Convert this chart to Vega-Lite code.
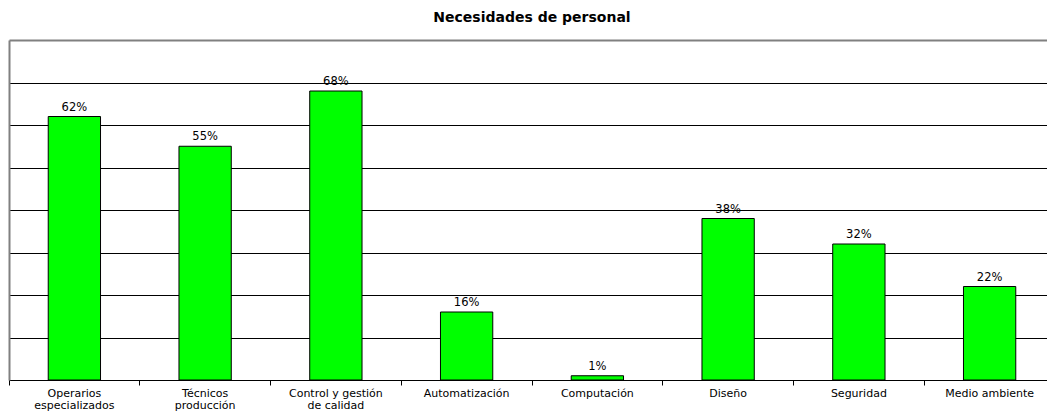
{
  "$schema": "https://vega.github.io/schema/vega-lite/v6.json",
  "width": 1038,
  "height": 340,
  "autosize": "none",
  "padding": {"left": 9, "top": 40, "right": 0, "bottom": 31},
  "background": "white",
  "config": {"view": {"stroke": null}},
  "title": {
    "text": "Necesidades de personal",
    "font": "DejaVu Sans",
    "fontSize": 14,
    "fontWeight": "bold",
    "color": "black",
    "anchor": "middle",
    "frame": "group",
    "offset": 15,
    "dx": 4
  },
  "data": {
    "values": [
      {"categoria": "Operarios|especializados", "valor": 62},
      {"categoria": "Técnicos|producción", "valor": 55},
      {"categoria": "Control y gestión|de calidad", "valor": 68},
      {"categoria": "Automatización", "valor": 16},
      {"categoria": "Computación", "valor": 1},
      {"categoria": "Diseño", "valor": 38},
      {"categoria": "Seguridad", "valor": 32},
      {"categoria": "Medio ambiente", "valor": 22}
    ]
  },
  "encoding": {
    "x": {
      "field": "categoria",
      "type": "nominal",
      "sort": null,
      "scale": {"range": [0, 1046], "paddingInner": 0, "paddingOuter": 0},
      "axis": {
        "title": null,
        "labelAngle": 0,
        "labelExpr": "split(datum.label, '|')",
        "labelFont": "DejaVu Sans",
        "labelFontSize": 11,
        "labelColor": "black",
        "labelLineHeight": 12,
        "labelPadding": 2,
        "labelLimit": 200,
        "bandPosition": 0,
        "tickColor": "black",
        "tickSize": 5,
        "domainColor": "black",
        "domainWidth": 1
      }
    },
    "y": {
      "field": "valor",
      "type": "quantitative",
      "scale": {"domain": [0, 80], "nice": false},
      "axis": {
        "title": null,
        "labels": false,
        "ticks": false,
        "values": [0, 10, 20, 30, 40, 50, 60, 70, 80],
        "grid": true,
        "gridColor": {"condition": {"test": "datum.value === 80", "value": "#808080"}, "value": "black"},
        "gridWidth": {"condition": {"test": "datum.value === 80", "value": 2}, "value": 1},
        "domainColor": "#808080",
        "domainWidth": 2
      }
    }
  },
  "layer": [
    {
      "mark": {"type": "bar", "width": {"band": 0.4}, "fill": "#00FF00", "stroke": "black", "strokeWidth": 1}
    },
    {
      "mark": {"type": "text", "baseline": "bottom", "dy": -4, "font": "DejaVu Sans", "fontSize": 11.5, "color": "black"},
      "encoding": {
        "text": {"value": {"expr": "datum.valor + '%'"}}
      }
    }
  ]
}
